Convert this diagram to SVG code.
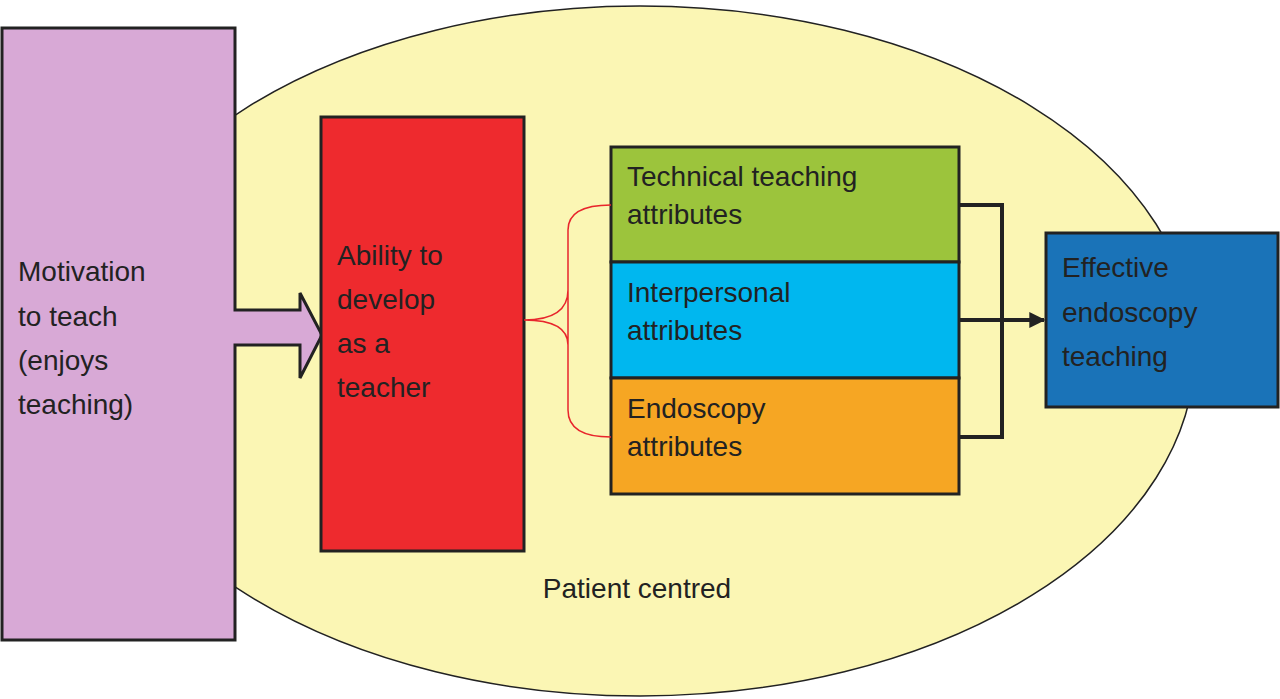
<svg xmlns="http://www.w3.org/2000/svg" width="1280" height="699" viewBox="0 0 1280 699">
<style>
text{font-family:"Liberation Sans",Arial,sans-serif;font-size:28px;fill:#222}
.b{stroke:#222;stroke-width:3}
</style>
<defs><marker id="ah" markerWidth="10" markerHeight="10" refX="9" refY="5" orient="auto" markerUnits="userSpaceOnUse"><path d="M0,0 L14,5 L0,10z" fill="#222"/></marker>
<marker id="ah2" viewBox="0 0 12 12" markerWidth="16" markerHeight="16" refX="11" refY="6" orient="auto" markerUnits="userSpaceOnUse"><path d="M0,0 L12,6 L0,12z" fill="#222"/></marker></defs>
<rect width="1280" height="699" fill="#fff"/>
<g id="bg"><ellipse cx="640" cy="351" rx="555" ry="345" fill="#fbf6b4" stroke="#222" stroke-width="1.5"/>
<text x="637" y="598" text-anchor="middle">Patient centred</text></g>
<g id="motivation"><path class="b" fill="#d8a9d6" d="M2,28 H235 V310 H300 V293 L322,335 L300,378 V345 H235 V640 H2Z"/>
<text x="18" y="281">Motivation</text><text x="18" y="326">to teach</text><text x="18" y="370">(enjoys</text><text x="18" y="414">teaching)</text></g>
<g id="ability"><rect class="b" x="321" y="117" width="203" height="434" fill="#ee2a2e"/>
<text x="337" y="265">Ability to</text><text x="337" y="309">develop</text><text x="337" y="353">as a</text><text x="337" y="397">teacher</text></g>
<g id="technical"><rect class="b" x="611" y="147" width="348" height="115" fill="#9cc43c"/><text x="627" y="186">Technical teaching</text><text x="627" y="224">attributes</text></g>
<g id="interpersonal"><rect class="b" x="611" y="262" width="348" height="116" fill="#00b7ef"/><text x="627" y="302">Interpersonal</text><text x="627" y="340">attributes</text></g>
<g id="endoscopy"><rect class="b" x="611" y="378" width="348" height="116" fill="#f6a623"/><text x="627" y="418">Endoscopy</text><text x="627" y="456">attributes</text></g>
<g id="effective"><rect class="b" x="1046" y="233" width="232" height="174" fill="#1a73b8"/><text x="1062" y="277">Effective</text><text x="1062" y="322">endoscopy</text><text x="1062" y="366">teaching</text></g>
<g id="connectors" fill="none">
<path d="M524,320 Q568,320 568,290 V230 Q568,205 611,205 M568,290 V350 M568,320 V410 Q568,437 611,437 M524,320 Q568,320 568,345" stroke="#e8252c" stroke-width="1.5"/>
<path d="M959,205 H1002 V437 H959" stroke="#222" stroke-width="4"/>
<path d="M959,320 H1044" stroke="#222" stroke-width="4" marker-end="url(#ah2)"/>
</g>
</svg>
